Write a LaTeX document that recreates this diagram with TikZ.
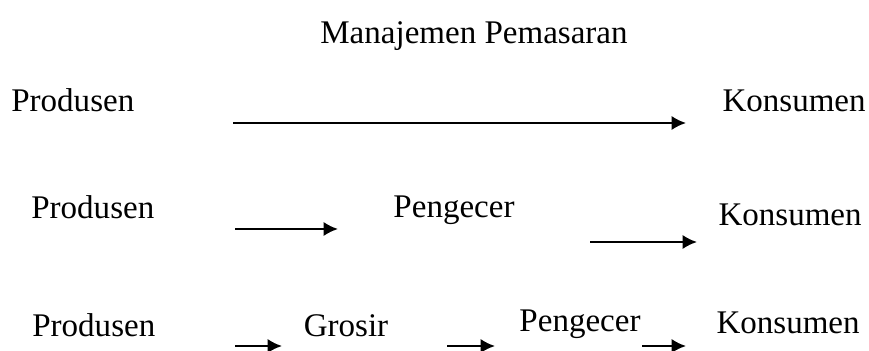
\documentclass[tikz,border=0pt]{standalone}
\usepackage{fontspec}
\setmainfont{Liberation Serif}
\usetikzlibrary{arrows.meta,positioning}
\tikzset{
  term/.style={inner sep=0pt,anchor=base,font=\fontsize{18.8pt}{22pt}\selectfont},
  flow/.style={-{Latex[length=2.9mm,width=2.9mm]},draw=black,line width=1.4pt}
}
\begin{document}
\begin{tikzpicture}[x=0.02cm,y=-0.02cm]
  \useasboundingbox (0,0) rectangle (869,351);
  \node[term] (judul) at (474,44) {Manajemen Pemasaran};
  % saluran langsung
  \node[term,anchor=base west] (produsenA) at (11,112) {Produsen};
  \node[term,anchor=base east] (konsumenA) at (866,112) {Konsumen};
  \coordinate (a1) at (233,123);
  \coordinate (a2) at (686,123);
  \draw[flow] (a1) -- (a2);
  % lewat pengecer
  \node[term,anchor=base west] (produsenB) at (31,219) {Produsen};
  \node[term] (pengecerB) at (454,218) {Pengecer};
  \node[term,anchor=base east] (konsumenB) at (862,226) {Konsumen};
  \coordinate (b1) at (235,229);
  \coordinate (b2) at (338,229);
  \coordinate (b3) at (590,242);
  \coordinate (b4) at (697,242);
  \draw[flow] (b1) -- (b2);
  \draw[flow] (b3) -- (b4);
  % lewat grosir dan pengecer
  \node[term,anchor=base west] (produsenC) at (32,337) {Produsen};
  \node[term] (grosirC) at (346,337) {Grosir};
  \node[term] (pengecerC) at (580,332) {Pengecer};
  \node[term,anchor=base east] (konsumenC) at (860,334) {Konsumen};
  \coordinate (c1) at (235,346);
  \coordinate (c2) at (282,346);
  \coordinate (c3) at (447,346);
  \coordinate (c4) at (495,346);
  \coordinate (c5) at (642,346);
  \coordinate (c6) at (686,346);
  \draw[flow] (c1) -- (c2);
  \draw[flow] (c3) -- (c4);
  \draw[flow] (c5) -- (c6);
\end{tikzpicture}
\end{document}
